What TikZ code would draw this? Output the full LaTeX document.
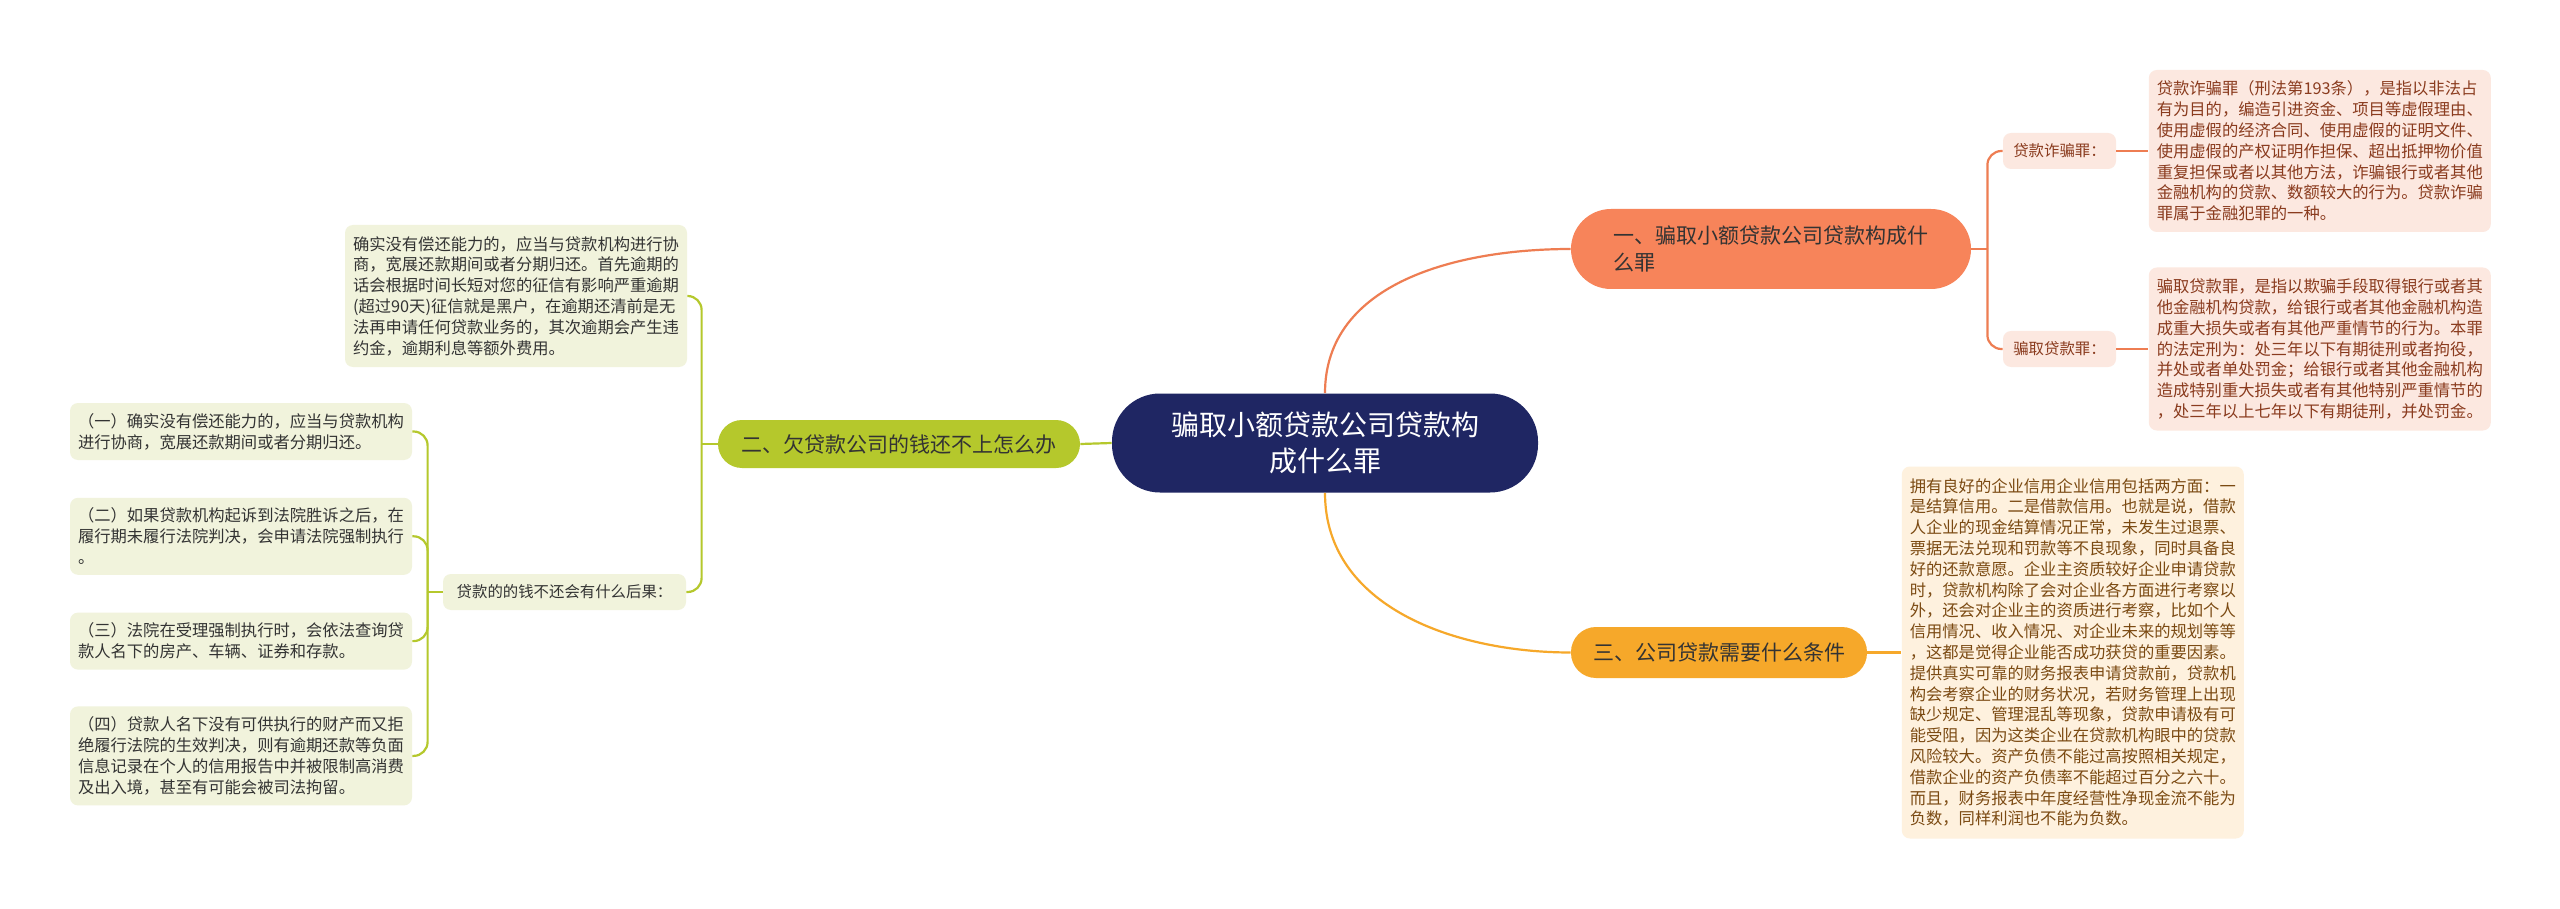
\documentclass[tikz,border=0pt]{standalone}
\usepackage{fontspec}
\setmainfont{Noto Sans CJK SC}
\usepackage{xcolor}
\usetikzlibrary{positioning}
\definecolor{hubblue}{HTML}{1F2663}
\definecolor{redfill}{HTML}{F7845A}
\definecolor{redline}{HTML}{EE7D52}
\definecolor{redsoft}{HTML}{FCE8E0}
\definecolor{redtext}{HTML}{8A3B1E}
\definecolor{leaffill}{HTML}{B5C82C}
\definecolor{leafsoft}{HTML}{F1F3DC}
\definecolor{goldfill}{HTML}{F6A82A}
\definecolor{goldsoft}{HTML}{FEF1DE}
\definecolor{goldtext}{HTML}{7B4A12}
\begin{document}
\begin{tikzpicture}[x=0.5pt, y=-0.5pt,
    hub/.style={rounded corners=24pt, fill=hubblue, text=white, align=center,
                font=\fontsize{14pt}{18pt}\selectfont, minimum width=213pt, minimum height=49.5pt},
    branch/.style={align=left, inner sep=0pt, text=black!80,
                   font=\fontsize{10.5pt}{13.5pt}\selectfont},
    tag/.style={rounded corners=4pt, align=left, inner sep=0pt, minimum height=18pt,
                font=\fontsize{7.7pt}{9pt}\selectfont},
    memo/.style={rounded corners=4pt, align=left, inner xsep=4pt, inner ysep=0pt,
                 minimum width=170.5pt, font=\fontsize{8.15pt}{10.4pt}\selectfont},
    redmemo/.style={memo, fill=redsoft, text=redtext},
    leafmemo/.style={memo, fill=leafsoft, text=black!80},
    link/.style={line width=1.1pt}]
    \fill[white] (0,0) rectangle (2560,909);
    \node[hub] (hub) at (1325,443) {骗取小额贷款公司贷款构\\成什么罪};
    \node[branch, fill=redfill, rounded corners=20pt, minimum width=200pt, minimum height=40pt]
        (q1) at (1771,249) {一、骗取小额贷款公司贷款构成什\\么罪};
    \node[branch, fill=leaffill, rounded corners=12pt, minimum width=181pt, minimum height=24pt]
        (q2) at (899,444) {二、欠贷款公司的钱还不上怎么办};
    \node[branch, fill=goldfill, rounded corners=12.5pt, minimum width=148pt, minimum height=25.5pt]
        (q3) at (1719,652.5) {三、公司贷款需要什么条件};
    \node[tag, fill=redsoft, text=redtext, minimum width=56.5pt] (fraud) at (2059.5,151) {贷款诈骗罪：};
    \node[tag, fill=redsoft, text=redtext, minimum width=56.5pt] (cheat) at (2059.5,349) {骗取贷款罪：};
    \node[tag, fill=leafsoft, text=black!80, minimum width=121.5pt] (conseq) at (564.5,592) {贷款的的钱不还会有什么后果：};
    \node[redmemo, minimum height=81pt, right=16pt of fraud] (fraudtxt) {贷款诈骗罪（刑法第193条），是指以非法占\\有为目的，编造引进资金、项目等虚假理由、\\使用虚假的经济合同、使用虚假的证明文件、\\使用虚假的产权证明作担保、超出抵押物价值\\重复担保或者以其他方法，诈骗银行或者其他\\金融机构的贷款、数额较大的行为。贷款诈骗\\罪属于金融犯罪的一种。};
    \node[redmemo, minimum height=81.5pt, right=16pt of cheat] (cheattxt) {骗取贷款罪，是指以欺骗手段取得银行或者其\\他金融机构贷款，给银行或者其他金融机构造\\成重大损失或者有其他严重情节的行为。本罪\\的法定刑为：处三年以下有期徒刑或者拘役，\\并处或者单处罚金；给银行或者其他金融机构\\造成特别重大损失或者有其他特别严重情节的\\，处三年以上七年以下有期徒刑，并处罚金。};
    \node[memo, fill=goldsoft, text=goldtext, minimum height=186pt, right=17pt of q3] (condtxt) {拥有良好的企业信用企业信用包括两方面：一\\是结算信用。二是借款信用。也就是说，借款\\人企业的现金结算情况正常，未发生过退票、\\票据无法兑现和罚款等不良现象，同时具备良\\好的还款意愿。企业主资质较好企业申请贷款\\时，贷款机构除了会对企业各方面进行考察以\\外，还会对企业主的资质进行考察，比如个人\\信用情况、收入情况、对企业未来的规划等等\\，这都是觉得企业能否成功获贷的重要因素。\\提供真实可靠的财务报表申请贷款前，贷款机\\构会考察企业的财务状况，若财务管理上出现\\缺少规定、管理混乱等现象，贷款申请极有可\\能受阻，因为这类企业在贷款机构眼中的贷款\\风险较大。资产负债不能过高按照相关规定，\\借款企业的资产负债率不能超过百分之六十。\\而且，财务报表中年度经营性净现金流不能为\\负数，同样利润也不能为负数。};
    \node[leafmemo, minimum height=71pt] (advice) at (516,296) {确实没有偿还能力的，应当与贷款机构进行协\\商，宽展还款期间或者分期归还。首先逾期的\\话会根据时间长短对您的征信有影响严重逾期\\(超过90天)征信就是黑户，在逾期还清前是无\\法再申请任何贷款业务的，其次逾期会产生违\\约金，逾期利息等额外费用。};
    \node[leafmemo, minimum height=28.5pt] (way1) at (241,431.5) {（一）确实没有偿还能力的，应当与贷款机构\\进行协商，宽展还款期间或者分期归还。};
    \node[leafmemo, minimum height=38.5pt, below=18.5pt of way1] (way2) {（二）如果贷款机构起诉到法院胜诉之后，在\\履行期未履行法院判决，会申请法院强制执行\\。};
    \node[leafmemo, minimum height=28.5pt, below=18.5pt of way2] (way3) {（三）法院在受理强制执行时，会依法查询贷\\款人名下的房产、车辆、证券和存款。};
    \node[leafmemo, minimum height=49.5pt, below=18pt of way3] (way4) {（四）贷款人名下没有可供执行的财产而又拒\\绝履行法院的生效判决，则有逾期还款等负面\\信息记录在个人的信用报告中并被限制高消费\\及出入境，甚至有可能会被司法拘留。};
    \coordinate (q1fork) at ([xshift=8pt]q1.east);
    \coordinate (q2fork) at ([xshift=-8pt]q2.west);
    \coordinate (cfork) at ([xshift=-7.5pt]conseq.west);
    \draw[link, redline] (hub.north) to[out=90, in=180] (q1.west);
    \draw[link, goldfill] (hub.south) to[out=-90, in=180] (q3.west);
    \draw[link, leaffill] (hub.west) -- (q2.east);
    \draw[link, redline] (q1.east) -- (q1fork);
    \draw[link, redline, rounded corners=7pt] (q1fork) |- (fraud.west);
    \draw[link, redline, rounded corners=7pt] (q1fork) |- (cheat.west);
    \draw[link, redline] (fraud.east) -- (fraudtxt.west);
    \draw[link, redline] (cheat.east) -- (cheattxt.west);
    \draw[link, goldfill] (q3.east) -- (condtxt.west);
    \draw[link, leaffill] (q2.west) -- (q2fork);
    \draw[link, leaffill, rounded corners=7pt] (q2fork) |- (advice.east);
    \draw[link, leaffill, rounded corners=7pt] (q2fork) |- (conseq.east);
    \draw[link, leaffill] (conseq.west) -- (cfork);
    \foreach \w in {way1,way2,way3,way4}
      \draw[link, leaffill, rounded corners=7pt] (cfork) |- (\w.east);
  \end{tikzpicture}
\end{document}
